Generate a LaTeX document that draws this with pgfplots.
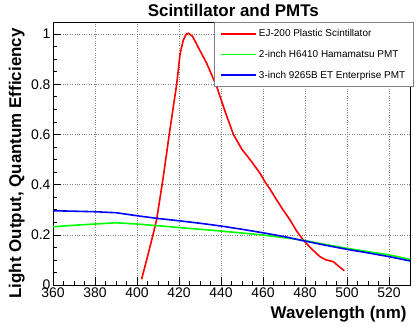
\documentclass[border=0pt]{standalone}
\usepackage{fontspec}
\setmainfont{Liberation Sans}
\usepackage{pgfplots}
\pgfplotsset{compat=1.18}
\begin{document}
\begin{tikzpicture}
\path[use as bounding box] (-53bp,-48bp) rectangle (362bp,285bp);
\begin{axis}[
    name=main,
    at={(0,0)}, anchor=south west,
    scale only axis,
    width=357bp, height=263bp,
    xmin=360, xmax=530,
    ymin=0, ymax=1.048,
    xtick={360,380,...,520},
    ytick={0,0.2,...,1},
    yticklabels={0,0.2,0.4,0.6,0.8,1},
    minor x tick num=3,
    minor y tick num=3,
    tick align=inside,
    xtick pos=bottom, ytick pos=left,
    major tick length=8bp, minor tick length=4bp,
    tick style={black, line width=0.6pt},
    grid=major,
    major grid style={dotted, gray, line width=0.6pt},
    axis line style={line width=0.8pt},
    /pgf/number format/assume math mode=true,
    ticklabel style={font=\fontsize{14}{16}\selectfont},
    xticklabel style={yshift=1bp},
    yticklabel style={xshift=1bp},
    xlabel={\textbf{Wavelength (nm)}},
    xlabel style={font=\fontsize{17}{20}\selectfont, at={(axis description cs:1,0)}, anchor=base east, yshift=-33bp},
    ylabel={\textbf{Light Output, Quantum Efficiency}},
    ylabel style={font=\fontsize{17}{20}\selectfont, at={(axis description cs:-0.0896,0.989)}, anchor=base east},
    legend style={at={(axis description cs:1.01,1)}, anchor=north east, draw=gray, line width=0.8pt,
        font=\fontsize{10}{12}\selectfont, row sep=8bp, inner xsep=6bp, inner ysep=5bp,
        fill=white},
    legend cell align=left,
    legend image code/.code={\draw[#1] (0bp,0bp) -- (35bp,0bp);},
]
\addplot[red, line width=1.6bp] coordinates {
(402.2,0.023) (404.6,0.10) (407.8,0.206) (409.4,0.263) (412.5,0.43)
(415.7,0.62) (418.9,0.80) (420.5,0.92) (422,0.975) (423.5,1.0) (424.6,1.003)
(426.5,0.99) (429,0.95) (433.2,0.883) (438,0.79) (442,0.69)
(445.9,0.60) (450,0.54) (453.8,0.50) (458.6,0.445) (461,0.41)
(463.5,0.38) (466.5,0.339) (469.5,0.30) (472.9,0.259) (476,0.215)
(479.2,0.179) (483,0.145) (487.1,0.113) (490,0.10) (493.5,0.093)
(496,0.075) (498.7,0.057)
};
\addlegendentry{EJ-200 Plastic Scintillator}
\addplot[green, line width=1.6bp] coordinates {
(360,0.232) (370,0.238) (380,0.243) (390,0.248) (400,0.243)
(410,0.236) (420,0.229) (430,0.222) (440,0.215) (450,0.207)
(460,0.199) (470,0.189) (480,0.177) (490,0.161) (500,0.146)
(510,0.133) (520,0.120) (530,0.102)
};
\addlegendentry{2-inch H6410 Hamamatsu PMT}
\addplot[blue, line width=1.6bp] coordinates {
(360,0.296) (370,0.294) (380,0.292) (390,0.288) (400,0.276)
(410,0.265) (420,0.256) (430,0.246) (440,0.235) (450,0.222)
(460,0.208) (470,0.193) (480,0.175) (490,0.158) (500,0.142)
(510,0.128) (520,0.113) (530,0.096)
};
\addlegendentry{3-inch 9265B ET Enterprise PMT}
\end{axis}
\node[font=\fontsize{17}{20}\selectfont\bfseries, anchor=base] at ([xshift=1.8bp,yshift=5bp]main.north) {Scintillator and PMTs};
\end{tikzpicture}
\end{document}
